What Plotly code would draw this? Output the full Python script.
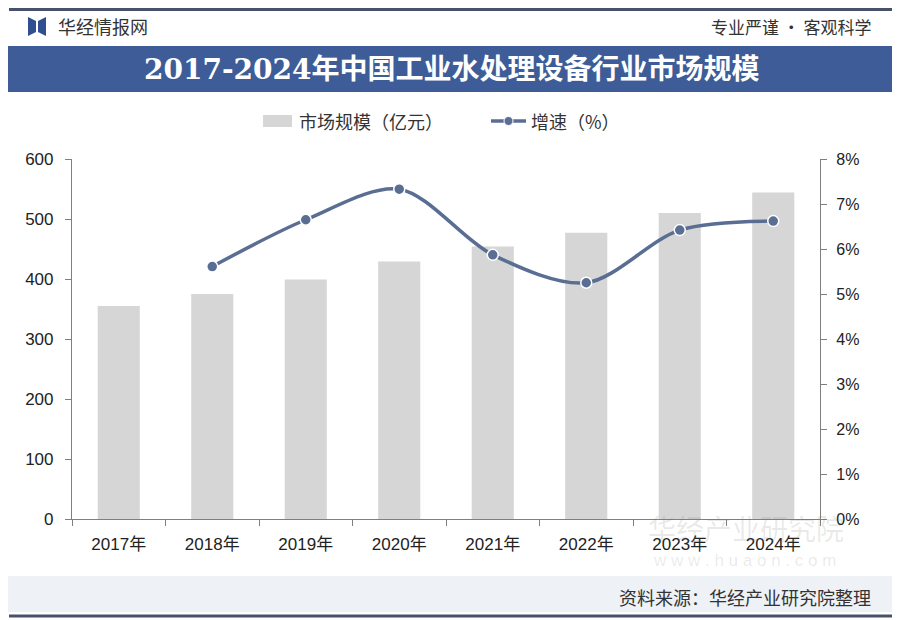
import plotly.graph_objects as go

# the page puts the figure 8px in from the top-left corner, so the figure is
# sized and laid out in screen pixels minus that offset
OFF = 8
W, H = 900 - OFF, 620 - OFF

years = ['2017年', '2018年', '2019年', '2020年', '2021年', '2022年', '2023年', '2024年']
market_size = [355, 375, 399, 429, 454, 477, 510, 544]   # 亿元
growth = [None, 5.61, 6.65, 7.33, 5.87, 5.25, 6.42, 6.62]  # %

left_ticks = [0, 100, 200, 300, 400, 500, 600]
right_ticks = [0, 1, 2, 3, 4, 5, 6, 7, 8]
right_labels = [f'{v}%' for v in right_ticks]

title = '2017-2024年中国工业水处理设备行业市场规模'
source = '资料来源：华经产业研究院整理'
bar_name = '市场规模（亿元）'
line_name = '增速（%）'

CJK = 'Noto Sans CJK SC'
NUM = 'Liberation Sans, Arial, ' + CJK
AXIS = '#7f7f7f'
LINE = '#5a6e93'
BAR = '#d6d6d6'
MARK = 'rgba(120,120,120,0.16)'


def px(x):
    # screen x -> paper fraction
    return (x - OFF) / W


def py(y):
    # screen y -> paper fraction
    return (H - (y - OFF)) / H


fig = go.Figure()

fig.add_trace(go.Bar(
    x=years, y=market_size, name=bar_name,
    marker=dict(color=BAR, line=dict(width=0)),
    width=0.45, showlegend=False,
))

fig.add_trace(go.Scatter(
    x=years, y=growth, name=line_name, yaxis='y2',
    mode='lines+markers', showlegend=False,
    line=dict(color=LINE, width=3.5, shape='spline', smoothing=0.9),
    marker=dict(size=11, color=LINE, line=dict(color='white', width=1.5)),
))

shapes = [
    # top and bottom rules
    dict(type='line', x0=px(9), x1=px(894), y0=py(9.5), y1=py(9.5),
         line=dict(color='#47526a', width=3)),
    dict(type='line', x0=px(9), x1=px(894), y0=py(616), y1=py(616),
         line=dict(color='#47526a', width=3)),
    # title bar
    dict(type='rect', x0=px(8), x1=px(894), y0=py(46), y1=py(92),
         fillcolor='#3d5c98', line=dict(width=0), layer='below'),
    # footer band
    dict(type='rect', x0=px(8), x1=px(900), y0=py(576), y1=py(612),
         fillcolor='#eef1f6', line=dict(width=0), layer='below'),
    # logo
    dict(type='path',
         path=f'M {px(28)} {py(17)} L {px(36)} {py(21)} L {px(36)} {py(32)} L {px(28)} {py(36)} Z',
         fillcolor='#2f4f8f', line=dict(width=0)),
    dict(type='path',
         path=f'M {px(46)} {py(17)} L {px(38)} {py(21)} L {px(38)} {py(32)} L {px(46)} {py(36)} Z',
         fillcolor='#2f4f8f', line=dict(width=0)),
    # legend keys
    dict(type='rect', x0=px(263), x1=px(292), y0=py(115), y1=py(127),
         fillcolor=BAR, line=dict(width=0)),
    dict(type='line', x0=px(491), x1=px(526), y0=py(121), y1=py(121),
         line=dict(color=LINE, width=3.5)),
    dict(type='circle', x0=px(504), x1=px(513), y0=py(116.5), y1=py(125.5),
         fillcolor=LINE, line=dict(color='white', width=1)),
]
for s in shapes:
    s.update(xref='paper', yref='paper')

annotations = [
    dict(text='华经情报网', x=px(56), y=py(26), xanchor='left', yanchor='middle',
         font=dict(family=CJK, size=18, color='#333333')),
    dict(text='专业严谨 • 客观科学', x=px(874), y=py(26), xanchor='right', yanchor='middle',
         font=dict(family=CJK, size=17, color='#333333')),
    dict(text='<b>' + title + '</b>', x=px(451), y=py(70), xanchor='center', yanchor='middle',
         font=dict(family='DejaVu Serif, ' + CJK, size=28, color='white')),
    dict(text=bar_name, x=px(297), y=py(121), xanchor='left', yanchor='middle',
         font=dict(family=CJK, size=18, color='#333333')),
    dict(text=line_name, x=px(529), y=py(121), xanchor='left', yanchor='middle',
         font=dict(family=CJK, size=18, color='#333333')),
    dict(text=source, x=px(873), y=py(597), xanchor='right', yanchor='middle',
         font=dict(family=CJK, size=18, color='#333333')),
    # faint watermark
    dict(text='华经产业研究院', x=px(746), y=py(528), xanchor='center', yanchor='middle',
         font=dict(family=CJK, size=28, color=MARK)),
    dict(text='w w w . h u a o n . c o m', x=px(744), y=py(560), xanchor='center',
         yanchor='middle', font=dict(family=NUM, size=17, color=MARK)),
]
for a in annotations:
    a.update(xref='paper', yref='paper', showarrow=False)

fig.update_layout(
    width=W, height=H,
    margin=dict(l=0, r=0, t=0, b=0, pad=0, autoexpand=False),
    paper_bgcolor='white', plot_bgcolor='rgba(0,0,0,0)',
    font=dict(family=NUM, size=16, color='#333333'),
    showlegend=False,
    xaxis=dict(domain=[px(72), px(820)], showline=True, linecolor=AXIS, linewidth=1.2,
               ticks='outside', tickson='boundaries', ticklen=6, tickcolor=AXIS,
               ticklabelstandoff=9, automargin=False,
               showgrid=False, tickfont=dict(family=NUM, size=17, color='#222222')),
    yaxis=dict(domain=[py(519), py(159)], range=[0, 600], tickvals=left_ticks,
               showline=True, linecolor=AXIS, linewidth=1.2, showgrid=False, zeroline=False,
               ticks='outside', ticklen=6, tickcolor=AXIS, ticklabelstandoff=8,
               automargin=False, tickfont=dict(family=NUM, size=17, color='#222222')),
    yaxis2=dict(overlaying='y', side='right', range=[0, 8], tickmode='array',
                tickvals=right_ticks, ticktext=right_labels,
                showline=True, linecolor=AXIS, linewidth=1.2, automargin=False,
                showgrid=False, zeroline=False, ticks='outside', ticklen=6, tickcolor=AXIS,
                ticklabelstandoff=6, tickfont=dict(family=NUM, size=16, color='#222222')),
    shapes=shapes,
    annotations=annotations,
)

fig.write_html('out.html')
